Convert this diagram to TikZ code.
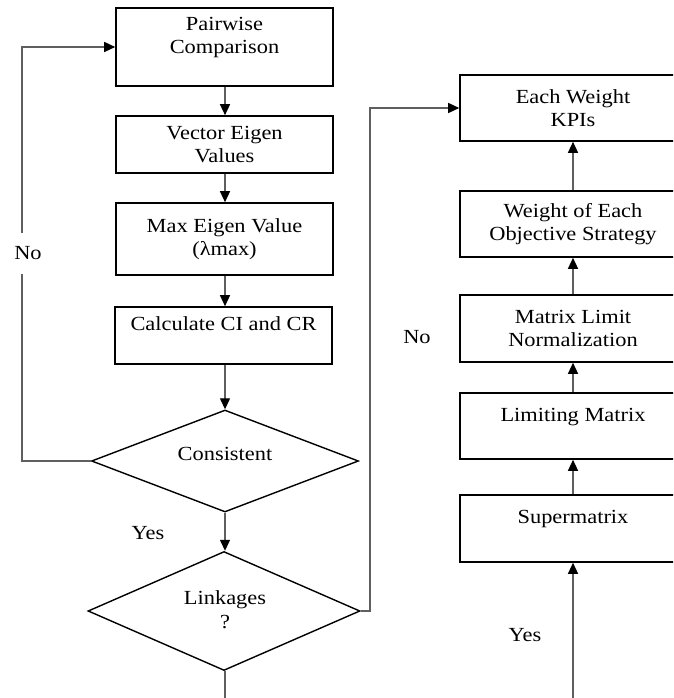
\documentclass[tikz,border=0pt]{standalone}
\usepackage{fontspec}
\setmainfont{Liberation Serif}[FakeStretch=1.12]
\usetikzlibrary{arrows.meta,shapes.geometric}
\definecolor{linec}{RGB}{95,95,95}
\tikzset{
  stepbox/.style={draw=black, line width=1.6pt, rectangle, inner sep=0pt, align=center,
    font=\fontsize{20}{23}\selectfont},
  leftbox/.style={stepbox, minimum width=217pt},
  rightbox/.style={stepbox, minimum width=226pt},
  decision/.style={draw=black, line width=1.4pt, diamond, inner sep=0pt},
  conn/.style={draw=linec, line width=1.3pt},
  arr/.style={conn, -{Triangle[length=11pt,width=10pt,fill=black,color=black]}},
  lbl/.style={font=\fontsize{20}{23}\selectfont, inner sep=0pt},
}
\begin{document}
\begin{tikzpicture}[x=1pt,y=-1pt]
\useasboundingbox (0,0) rectangle (673,698);
\clip (0,0) rectangle (673,698);
\fill[white] (0,0) rectangle (673,698);
% left column
\node[leftbox, minimum height=78pt] (pw) at (224.5,47) {Pairwise\\Comparison\\~};
\node[leftbox, minimum height=57pt] (ve) at (224.5,144.5) {Vector Eigen\\Values};
\node[leftbox, minimum height=72pt] (me) at (224.5,239) {Max Eigen Value\\(λmax)};
\node[leftbox, minimum height=57pt] (cc) at (223.5,335.5) {Calculate CI and CR\\~};
\node[decision, minimum width=267pt, minimum height=102pt] (cons) at (225,461) {};
\node[lbl] (consT) at (225,454) {Consistent};
\node[decision, minimum width=272pt, minimum height=119pt] (link) at (224,611) {};
\node[lbl, align=center, font=\fontsize{20}{24}\selectfont] (linkT) at (225,610) {Linkages\\?};
\coordinate (linkEnd) at (225,700);
% right column
\node[rightbox, minimum height=66pt] (kpi) at (573,108) {Each Weight\\KPIs};
\node[rightbox, minimum height=66pt] (weos) at (573,224) {Weight of Each\\Objective Strategy};
\node[rightbox, minimum height=67pt] (mln) at (573,328.5) {Matrix Limit\\Normalization};
\node[rightbox, minimum height=66pt] (lm) at (573,426) {Limiting Matrix\\~};
\node[rightbox, minimum height=67pt] (sm) at (573,528.5) {Supermatrix\\~};
\coordinate (smStart) at (573,700);
% connectors left
\draw[arr] (pw.south -| 225,0) -- (ve.north -| 225,0);
\draw[arr] (ve.south -| 225,0) -- (me.north -| 225,0);
\draw[arr] (me.south -| 225,0) -- (cc.north -| 225,0);
\draw[arr] (cc.south -| 225,0) -- (cons.north);
\draw[arr] (cons.south) -- (link.north -| cons.south);
\draw[conn] (link.south -| 225,0) -- (linkEnd);
\draw[arr] (cons.west) -- (22,461) -- (22,47) -- (pw.west);
\node[lbl, fill=white, minimum height=41pt, minimum width=30pt] (noL) at (28,253) {No};
\node[lbl] (yesL) at (148,533) {Yes};
\draw[arr] (link.east) -- (370,611) -- (370,108) -- (kpi.west);
% connectors right
\draw[arr] (smStart) -- (sm.south);
\draw[arr] (sm.north) -- (lm.south);
\draw[arr] (lm.north) -- (mln.south);
\draw[arr] (mln.north) -- (weos.south);
\draw[arr] (weos.north) -- (kpi.south);
\node[lbl] (noR) at (417,337) {No};
\node[lbl] (yesR) at (525,635) {Yes};
\end{tikzpicture}
\end{document}
